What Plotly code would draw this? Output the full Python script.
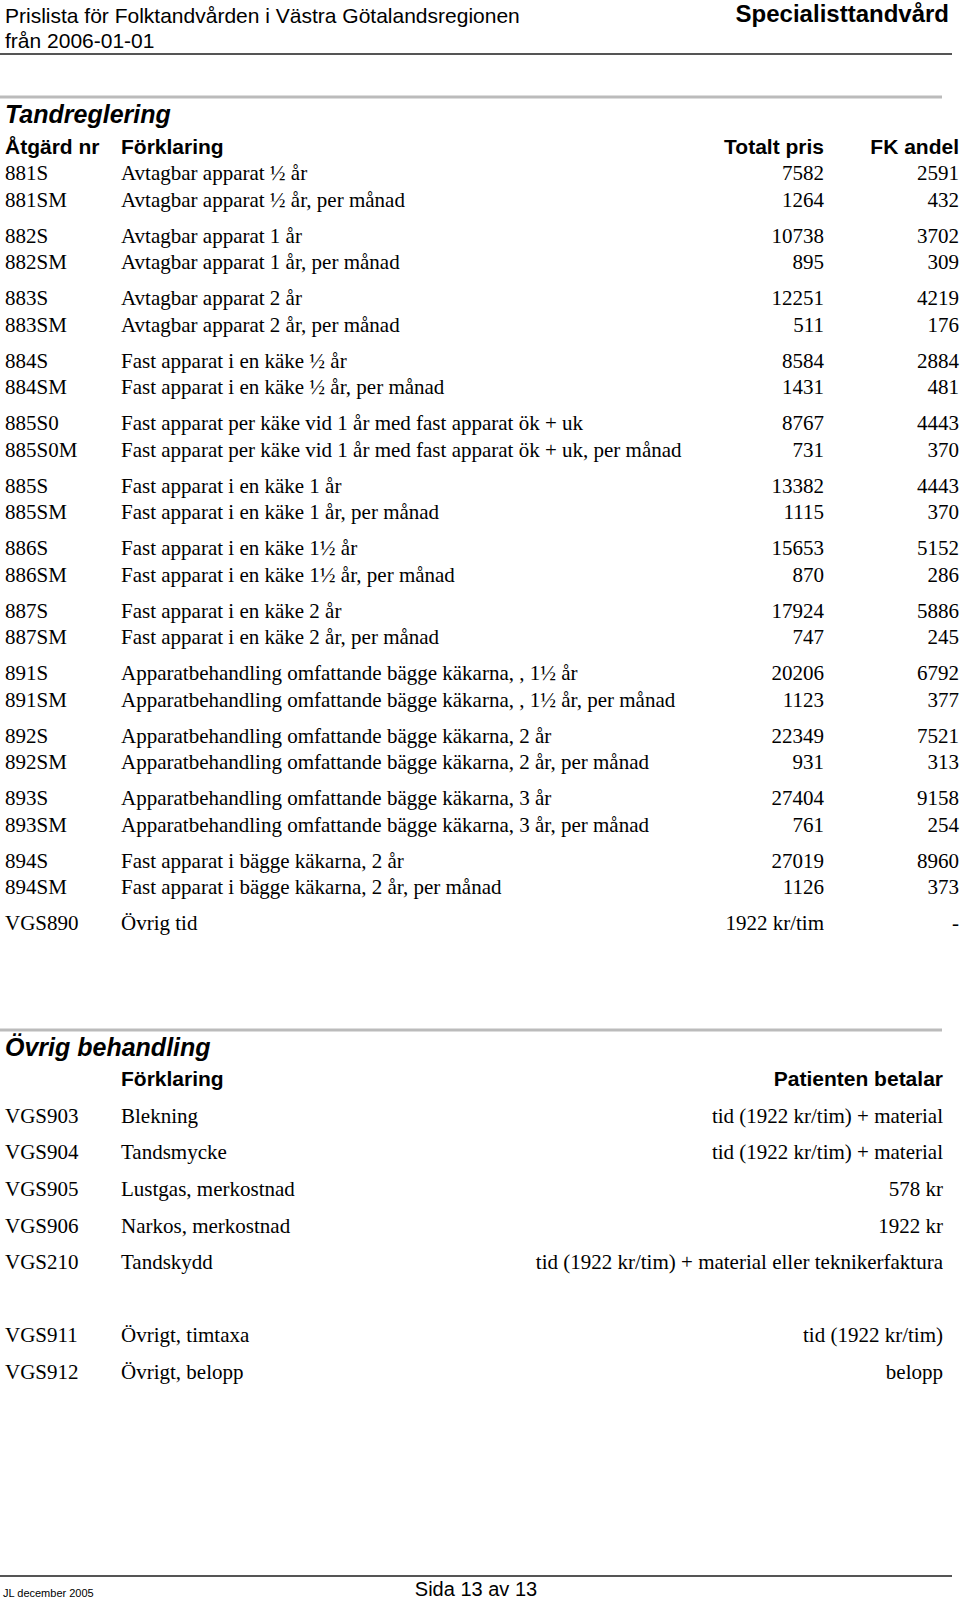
import plotly.graph_objects as go

# --- Page text / data ---
header_left = ["Prislista för Folktandvården i Västra Götalandsregionen", "från 2006-01-01"]
header_right = "Specialisttandvård"

section1_title = "Tandreglering"
section1_cols = ["Åtgärd nr", "Förklaring", "Totalt pris", "FK andel"]

codes = ["881S", "881SM", "882S", "882SM", "883S", "883SM", "884S", "884SM",
         "885S0", "885S0M", "885S", "885SM", "886S", "886SM", "887S", "887SM",
         "891S", "891SM", "892S", "892SM", "893S", "893SM", "894S", "894SM", "VGS890"]
descriptions = [
    "Avtagbar apparat ½ år", "Avtagbar apparat ½ år, per månad",
    "Avtagbar apparat 1 år", "Avtagbar apparat 1 år, per månad",
    "Avtagbar apparat 2 år", "Avtagbar apparat 2 år, per månad",
    "Fast apparat i en käke ½ år", "Fast apparat i en käke ½ år, per månad",
    "Fast apparat per käke vid 1 år med fast apparat ök + uk",
    "Fast apparat per käke vid 1 år med fast apparat ök + uk, per månad",
    "Fast apparat i en käke 1 år", "Fast apparat i en käke 1 år, per månad",
    "Fast apparat i en käke 1½ år", "Fast apparat i en käke 1½ år, per månad",
    "Fast apparat i en käke 2 år", "Fast apparat i en käke 2 år, per månad",
    "Apparatbehandling omfattande bägge käkarna, , 1½ år",
    "Apparatbehandling omfattande bägge käkarna, , 1½ år, per månad",
    "Apparatbehandling omfattande bägge käkarna, 2 år",
    "Apparatbehandling omfattande bägge käkarna, 2 år, per månad",
    "Apparatbehandling omfattande bägge käkarna, 3 år",
    "Apparatbehandling omfattande bägge käkarna, 3 år, per månad",
    "Fast apparat i bägge käkarna, 2 år", "Fast apparat i bägge käkarna, 2 år, per månad",
    "Övrig tid",
]
total_price = ["7582", "1264", "10738", "895", "12251", "511", "8584", "1431",
               "8767", "731", "13382", "1115", "15653", "870", "17924", "747",
               "20206", "1123", "22349", "931", "27404", "761", "27019", "1126", "1922 kr/tim"]
fk_share = ["2591", "432", "3702", "309", "4219", "176", "2884", "481",
            "4443", "370", "4443", "370", "5152", "286", "5886", "245",
            "6792", "377", "7521", "313", "9158", "254", "8960", "373", "-"]

section2_title = "Övrig behandling"
section2_cols = ["Förklaring", "Patienten betalar"]
other_codes = ["VGS903", "VGS904", "VGS905", "VGS906", "VGS210", "VGS911", "VGS912"]
other_desc = ["Blekning", "Tandsmycke", "Lustgas, merkostnad", "Narkos, merkostnad",
              "Tandskydd", "Övrigt, timtaxa", "Övrigt, belopp"]
other_pay = ["tid (1922 kr/tim) + material", "tid (1922 kr/tim) + material", "578 kr",
             "1922 kr", "tid (1922 kr/tim) + material eller teknikerfaktura",
             "tid (1922 kr/tim)", "belopp"]

footer_left = "JL december 2005"
footer_center = "Sida 13 av 13"

# --- Layout constants (page pixel coordinates) ---
W, H = 960, 1600
SANS = "Liberation Sans, Arial, sans-serif"
SERIF = "Liberation Serif, Times New Roman, serif"
BODY = 21

X_CODE, X_DESC, X_TOTAL, X_FK, X_PAY = 5, 121, 824, 959, 943

# Tandreglering rows come in pairs; VGS890 stands alone after them
row_y = [175 + (i // 2) * 62.5 + (i % 2) * 26.5 for i in range(len(codes))]
# Övrig behandling: a blank line between VGS210 and VGS911
other_y = [1117.5 + (i + (1 if i >= 5 else 0)) * 36.6 for i in range(len(other_codes))]


def text_trace(x, y, txt, pos, size, family=SERIF, color="black", weight="normal", style="normal"):
    return go.Scatter(
        x=x, y=y, text=txt, mode="text", textposition=pos, hoverinfo="skip",
        textfont=dict(family=family, size=size, color=color, weight=weight, style=style),
        showlegend=False, cliponaxis=False,
    )


fig = go.Figure()

# page header
fig.add_trace(text_trace([X_CODE, X_CODE], [17.5, 43], header_left, "middle right", 21, SANS))
fig.add_trace(text_trace([949], [16], [header_right], "middle left", 24, SANS, weight="bold"))

# section 1
fig.add_trace(text_trace([X_CODE], [116.5], [section1_title], "middle right", 25, SANS,
                         weight="bold", style="italic"))
fig.add_trace(text_trace([X_CODE, X_DESC], [148.5, 148.5], section1_cols[:2], "middle right", 21, SANS, weight="bold"))
fig.add_trace(text_trace([X_TOTAL, X_FK], [148.5, 148.5], section1_cols[2:], "middle left", 21, SANS, weight="bold"))
fig.add_trace(text_trace([X_CODE] * len(codes), row_y, codes, "middle right", BODY))
fig.add_trace(text_trace([X_DESC] * len(codes), row_y, descriptions, "middle right", BODY))
fig.add_trace(text_trace([X_TOTAL] * len(codes), row_y, total_price, "middle left", BODY))
fig.add_trace(text_trace([X_FK] * len(codes), row_y, fk_share, "middle left", BODY))

# section 2
fig.add_trace(text_trace([X_CODE], [1049.5], [section2_title], "middle right", 25, SANS,
                         weight="bold", style="italic"))
fig.add_trace(text_trace([X_DESC], [1080.5], [section2_cols[0]], "middle right", 21, SANS, weight="bold"))
fig.add_trace(text_trace([X_PAY], [1080.5], [section2_cols[1]], "middle left", 21, SANS, weight="bold"))
fig.add_trace(text_trace([X_CODE] * len(other_codes), other_y, other_codes, "middle right", BODY))
fig.add_trace(text_trace([X_DESC] * len(other_codes), other_y, other_desc, "middle right", BODY))
fig.add_trace(text_trace([X_PAY] * len(other_codes), other_y, other_pay, "middle left", BODY))

# footer
fig.add_trace(text_trace([3], [1594], [footer_left], "middle right", 11, SANS))
fig.add_trace(text_trace([476], [1591], [footer_center], "middle center", 20, SANS))

# rules
fig.add_shape(type="line", x0=0, x1=952, y0=54, y1=54, line=dict(color="#555555", width=2))
fig.add_shape(type="line", x0=0, x1=942, y0=97, y1=97, line=dict(color="#bbbbbb", width=3))
fig.add_shape(type="line", x0=0, x1=942, y0=1030, y1=1030, line=dict(color="#bbbbbb", width=3))
fig.add_shape(type="line", x0=0, x1=952, y0=1576, y1=1576, line=dict(color="#555555", width=2))

fig.update_layout(
    width=W, height=H,
    margin=dict(l=0, r=0, t=0, b=0),
    paper_bgcolor="white", plot_bgcolor="white",
    xaxis=dict(range=[0, W], visible=False, fixedrange=True),
    yaxis=dict(range=[H, 0], visible=False, fixedrange=True),
)

fig.write_html("out.html", config={"displayModeBar": False},
               post_script="document.body.style.margin='0';")
